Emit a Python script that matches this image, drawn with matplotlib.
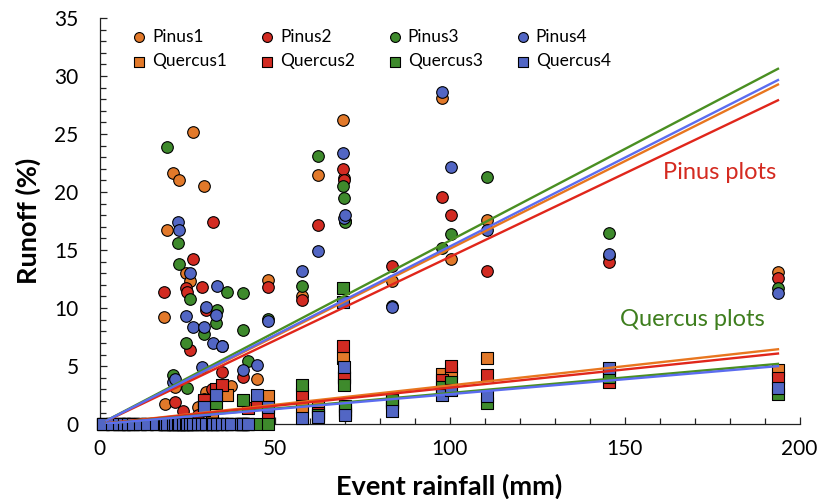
import numpy as np
import matplotlib
matplotlib.use("Agg")
import matplotlib.pyplot as plt
from matplotlib.ticker import MultipleLocator

plt.rcParams['font.family'] = ['Lato', 'DejaVu Sans']

# event rainfall (mm)
rain = [1.1, 3.5, 5.5, 7.0, 8.0, 9.5, 11.5, 13.5, 16.0,
        18.4, 18.6, 19.4, 20.9, 21.6, 22.3, 22.8, 23.9, 24.6, 25.1, 25.9, 26.8,
        28.0, 29.2, 29.9, 30.3, 32.0, 32.5, 33.3, 33.7, 34.9, 36.3, 37.5,
        40.5, 40.9, 41.0, 42.5, 44.9, 48.1,
        57.9, 62.5, 69.5, 69.9, 70.2, 83.5, 97.9, 100.4, 110.8, 145.6, 193.8]

# runoff (%) per plot
pinus1 = [0, 0, 0, 0, 0, 0, 0, 0, 0,
          9.2, 1.7, 16.7, 21.6, 3.2, 0, 21.0, 0, 13.0, 0, 12.3, 25.2,
          1.5, 0, 20.5, 2.8, 2.3, 0, 0, 0, 0, 0, 3.3,
          0, 0, 0, 0, 3.9, 12.4,
          11.0, 21.5, 26.2, 21.2, 17.5, 12.3, 28.1, 14.2, 17.6, 14.5, 13.1]
pinus2 = [0, 0, 0, 0, 0, 0, 0, 0, 0,
          11.4, 0, 0, 0, 1.9, 0, 0, 1.1, 11.7, 11.4, 6.4, 14.2,
          0.8, 11.8, 2.2, 9.8, 3.0, 17.4, 0, 0, 4.5, 0, 0,
          0, 4.1, 0, 0, 0, 11.8,
          10.7, 17.2, 22.0, 21.0, 17.5, 13.6, 19.6, 18.0, 13.2, 14.0, 12.6]
pinus3 = [0, 0, 0, 0, 0, 0, 0, 0, 0,
          0, 0, 23.9, 4.2, 0, 15.6, 13.8, 0, 7.0, 3.1, 10.8, 0,
          0, 0, 7.8, 0, 0, 0, 8.7, 9.8, 6.7, 11.4, 0,
          0, 11.3, 8.1, 5.4, 0, 9.1,
          11.9, 23.1, 20.5, 19.5, 17.4, 10.2, 15.2, 16.4, 21.3, 16.5, 11.7]
pinus4 = [0, 0, 0, 0, 0, 0, 0, 0, 0,
          0, 0, 0, 3.6, 3.9, 17.4, 16.7, 0, 9.3, 0, 13.0, 8.4,
          0, 4.9, 8.4, 10.1, 0, 7.0, 9.4, 11.9, 6.7, 0, 0,
          0, 4.7, 0, 0, 5.1, 8.9,
          13.2, 14.9, 23.4, 17.8, 18.0, 10.1, 28.6, 22.2, 16.7, 14.7, 11.3]
quercus1 = [0, 0, 0, 0, 0, 0, 0, 0, 0,
            0, 0, 0, 0, 0, 0, 0, 0, 0, 0, 0, 0,
            0, 0, 2.0, 0, 0.6, 0, 2.8, 0, 0, 2.5, 0,
            0, 0, 0, 0, 1.8, 2.4,
            1.5, 1.5, 5.7, 4.1, 1.0, 1.8, 4.3, 4.4, 5.7, 4.5, 4.65]
quercus2 = [0, 0, 0, 0, 0, 0, 0, 0, 0,
            0, 0, 0, 0, 0, 0, 0, 0, 0, 0, 0, 0,
            0, 0, 2.1, 0, 0, 0, 3.0, 0, 3.4, 0, 0,
            0, 0, 0, 1.4, 2.0, 1.0,
            2.6, 1.0, 6.7, 4.0, 1.2, 1.9, 3.8, 5.0, 4.2, 3.6, 4.0]
quercus3 = [0, 0, 0, 0, 0, 0, 0, 0, 0,
            0, 0, 0, 0, 0, 0, 0, 0, 0, 0, 0, 0,
            0, 0, 1.2, 0, 0, 0, 1.8, 0, 0, 0, 0,
            0, 2.1, 0, 0, 0, 0,
            3.4, 0.8, 11.7, 3.4, 1.6, 2.1, 3.2, 3.6, 1.8, 4.1, 2.6]
quercus4 = [0, 0, 0, 0, 0, 0, 0, 0, 0,
            0, 0, 0, 0, 0, 0, 0, 0, 0, 0, 0, 0,
            0, 0, 1.5, 0, 0, 0, 2.5, 0, 0, 0, 0,
            0, 0, 0, 0, 2.5, 1.5,
            0.5, 0.6, 10.5, 4.9, 0.8, 1.1, 2.5, 2.9, 2.4, 4.8, 3.1]

# slopes of the linear trends (runoff = b * rainfall)
pinus_slope = [0.151, 0.144, 0.158, 0.153]
quercus_slope = [0.0333, 0.0314, 0.0268, 0.0258]

names = ['1', '2', '3', '4']
fill_cols = ['#E2792A', '#D22B22', '#3E8A2C', '#5266C4']
line_cols = ['#E8761F', '#E0261B', '#4A8F22', '#5B6CF0']

rain = np.array(rain)
pinus = [pinus1, pinus2, pinus3, pinus4]
quercus = [quercus1, quercus2, quercus3, quercus4]

fig = plt.figure(figsize=(8.17, 4.99), dpi=100)
ax = fig.add_axes([0.1218, 0.150, 0.857, 0.814])

handles = []
for i in range(4):
    h = ax.scatter(rain, pinus[i], s=70, marker='o', c=fill_cols[i],
                   edgecolors='black', linewidths=0.8, clip_on=False, zorder=3,
                   label='Pinus' + names[i])
    handles.append(h)
for i in range(4):
    h = ax.scatter(rain, quercus[i], s=72, marker='s', c=fill_cols[i],
                   edgecolors='black', linewidths=0.8, clip_on=False, zorder=4,
                   label='Quercus' + names[i])
    handles.append(h)

xl = np.array([2.0, rain.max()])
for i in range(4):
    ax.plot(xl, pinus_slope[i] * xl, color=line_cols[i], lw=1.7, zorder=5)
    ax.plot(xl, quercus_slope[i] * xl, color=line_cols[i], lw=1.7, zorder=5)

ax.text(161, 21.7, 'Pinus plots', color='#D42A20', fontsize=17, va='center')
ax.text(148.7, 9.0, 'Quercus plots', color='#3E7E1E', fontsize=17, va='center')

order = [0, 4, 1, 5, 2, 6, 3, 7]
ax.legend([handles[k] for k in order], [handles[k].get_label() for k in order],
          ncol=4, loc='upper left', bbox_to_anchor=(0.023, 1.012), frameon=False,
          fontsize=12.5, scatterpoints=1, handlelength=0.9, handletextpad=0.3,
          columnspacing=1.85, labelspacing=0.5, markerscale=0.85)

ax.set_xlim(0, 200)
ax.set_ylim(0, 35)
ax.xaxis.set_major_locator(MultipleLocator(50))
ax.xaxis.set_minor_locator(MultipleLocator(10))
ax.yaxis.set_major_locator(MultipleLocator(5))
ax.yaxis.set_minor_locator(MultipleLocator(1))
ax.tick_params(which='both', direction='in', labelsize=15, color='#222222')
ax.tick_params(which='major', length=5, width=0.9)
ax.tick_params(which='minor', length=4, width=0.9)
ax.tick_params(axis='y', pad=15)
ax.tick_params(axis='x', pad=11)
for s in ['top', 'right']:
    ax.spines[s].set_visible(False)
for s in ['left', 'bottom']:
    ax.spines[s].set_color('#222222')
    ax.spines[s].set_linewidth(0.9)

ax.set_xlabel('Event rainfall (mm)', fontsize=19.5, fontweight='bold', labelpad=10)
ax.set_ylabel('Runoff (%)', fontsize=19.5, fontweight='bold', labelpad=10)

fig.savefig('out.png', dpi=100)
